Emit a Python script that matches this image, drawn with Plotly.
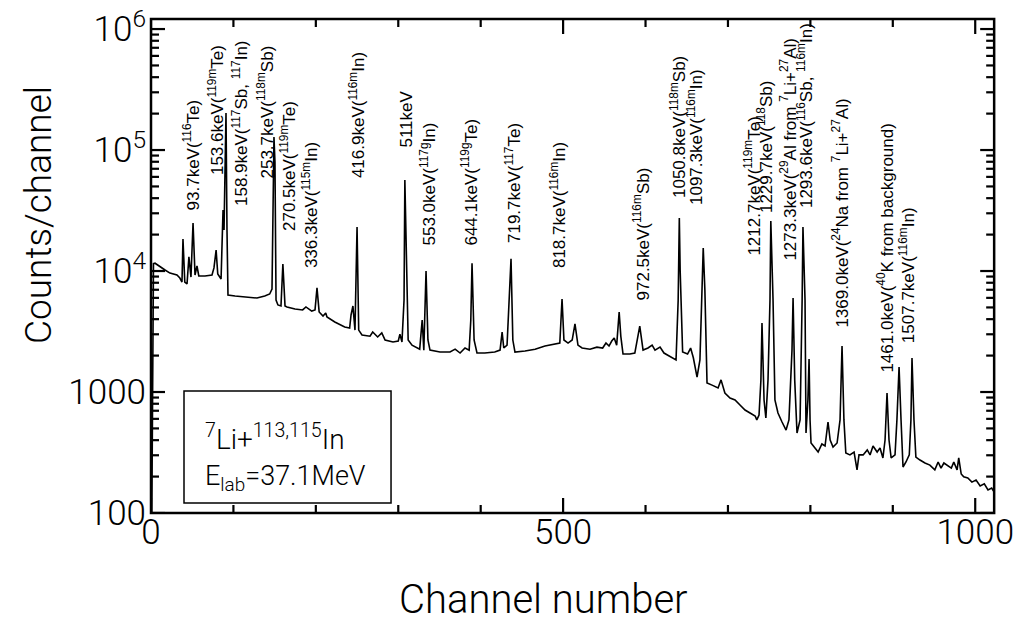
import plotly.graph_objects as go

channel = [1, 3, 4.9, 10.9, 17, 23, 31.5, 35, 37.6, 38.8, 41, 43.7, 46, 48.5, 51, 53.4, 55.8, 58, 65.5, 74,
           76.4, 79, 81, 85, 87.4, 88.6, 89.8, 91, 92.2, 93.4, 102, 114, 128.6, 138, 144, 146.8, 148, 149.2,
           150.4, 151.7, 154, 157.7, 160, 162.6, 165, 174.7, 184, 188, 195, 199, 201.4, 204, 208.7, 212,
           213.5, 223, 235, 241, 242.7, 245, 247.5, 250, 252, 256, 265.7, 269, 275, 280, 284, 293.6, 300,
           302, 304.5, 307, 308, 309.5, 312, 316.7, 322.7, 326, 329, 331, 333.7, 336, 338.5, 350.6, 362.8,
           369, 375, 381, 386, 388, 389.5, 392, 395.5, 405, 417, 423.5, 426, 428, 432, 436.8, 439, 441.6,
           453.8, 466, 478, 490, 496, 498.7, 501, 506, 511, 514.4, 518, 523, 532.6, 541, 548, 552, 555.7,
           559, 562, 565, 568, 570, 572.7, 581, 587, 593, 597, 603, 608, 611.5, 617.6, 622.4, 629.7, 637,
           639.6, 641, 642, 645, 651, 654.7, 658, 662.5, 666, 668.6, 670, 672, 674.6, 680.7, 688, 691.6,
           696.3, 702.5, 708.6, 714.6, 720.7, 726.8, 733, 735, 737.7, 740, 741.3, 743.8, 746, 748.6, 751,
           752, 754.7, 757, 760.7, 765.6, 770.5, 774, 777.7, 779, 781, 783.8, 787.5, 790, 791, 793.5, 794.7,
           797, 798.4, 799.6, 800.8, 805.6, 809.4, 814, 817.8, 821.4, 824, 827.5, 832.4, 836, 838.4, 840.7,
           843, 848, 853, 856.6, 859, 864, 869, 872.4, 876, 881, 884.5, 888, 890.6, 893, 895.4, 898, 902.7,
           905, 907.6, 910, 912.4, 916, 920, 922, 923.3, 925.7, 928, 933, 939, 945, 951, 955, 958.5, 962,
           967, 971, 974, 978, 980, 983, 986, 991, 996, 1001, 1006, 1011, 1015.5, 1020, 1023]
counts = [100, 11500, 11600, 10800, 10200, 9620, 9270, 8750, 8110, 18400, 8100, 7820, 13100, 8910, 24900, 9270,
          11000, 9100, 9100, 9270, 10600, 14900, 9440, 8590, 31900, 21800, 100000, 202000, 21800, 6340, 6220,
          6090, 5980, 6220, 6460, 7090, 38600, 128000, 79600, 5750, 5240, 5140, 11400, 5140, 5050, 4850, 4770,
          5050, 4670, 4770, 7250, 4590, 4250, 4500, 4170, 3790, 3450, 3380, 4330, 5140, 3250, 23100, 3250,
          2960, 2890, 3130, 2850, 3080, 2690, 2590, 2640, 3010, 2590, 5750, 56500, 14900, 2690, 2440, 2310,
          2260, 3940, 2220, 10000, 2690, 2220, 2140, 2140, 2260, 2100, 2310, 2220, 3940, 11600, 2690, 2100,
          2100, 2140, 2220, 3130, 2310, 2440, 12600, 2690, 2140, 2180, 2260, 2400, 2490, 2540, 5870, 2690,
          2540, 2690, 3650, 2440, 2310, 2260, 2350, 2310, 2540, 2400, 2640, 2790, 2440, 4590, 2900, 2060,
          2060, 2100, 3510, 2220, 2310, 2440, 2220, 2350, 2100, 1950, 1840, 5750, 27400, 10200, 2140, 2060,
          2310, 1920, 1330, 1840, 8430, 15500, 6960, 1190, 1140, 1080, 1260, 980, 892, 859, 781, 710, 670,
          633, 588, 646, 1260, 3720, 859, 610, 1260, 5750, 25900, 5750, 859, 670, 565, 485, 588, 2220, 5990,
          1260, 458, 588, 5750, 23100, 5750, 458, 859, 1870, 588, 379, 344, 319, 372, 358, 565, 401, 351,
          379, 588, 2400, 588, 313, 302, 319, 227, 302, 302, 332, 302, 358, 319, 344, 285, 401, 980, 401,
          285, 302, 588, 1610, 588, 240, 264, 302, 588, 1910, 588, 290, 274, 259, 249, 227, 264, 235, 259,
          245, 235, 264, 227, 285, 210, 199, 195, 180, 187, 167, 174, 155, 161, 149]

peak_labels = [
    "93.7keV(<sup>116</sup>Te)",
    "153.6keV(<sup>119m</sup>Te)",
    "158.9keV(<sup>117</sup>Sb, <sup>117</sup>In)",
    "253.7keV(<sup>118m</sup>Sb)",
    "270.5keV(<sup>119m</sup>Te)",
    "336.3keV(<sup>115m</sup>In)",
    "416.9keV(<sup>116m</sup>In)",
    "511keV",
    "553.0keV(<sup>117g</sup>In)",
    "644.1keV(<sup>119g</sup>Te)",
    "719.7keV(<sup>117</sup>Te)",
    "818.7keV(<sup>116m</sup>In)",
    "972.5keV(<sup>116m</sup>Sb)",
    "1050.8keV(<sup>118m</sup>Sb)",
    "1097.3keV(<sup>116m</sup>In)",
    "1212.7keV(<sup>119m</sup>Te)",
    "1229.7keV(<sup>118</sup>Sb)",
    "1273.3keV(<sup>29</sup>Al from <sup>7</sup>Li+<sup>27</sup>Al)",
    "1293.6keV(<sup>116</sup>Sb, <sup>116m</sup>In)",
    "1369.0keV(<sup>24</sup>Na from <sup>7</sup>Li+<sup>27</sup>Al)",
    "1461.0keV(<sup>40</sup>K from background)",
    "1507.7keV(<sup>116m</sup>In)",
]
label_pos_x = [49.7, 78.9, 108, 138.3, 166.2, 193, 250, 310.6, 336, 385.8, 439.2, 493.8, 595.7, 639.4, 660,
               729.2, 745, 772.9, 793.5, 836, 890.6, 917.3]
label_pos_y = [4.488, 4.777, 4.521, 4.752, 4.314, 4.008, 4.752, 5.0, 4.198, 4.198, 4.215, 4.008, 3.744,
               4.587, 4.529, 4.107, 4.463, 4.066, 4.5, 3.512, 3.14, 3.388]

y_tickvals = [100, 1000, 1e4, 1e5, 1e6]
y_ticktext = ["100", "1000", "10<sup>4</sup>", "10<sup>5</sup>", "10<sup>6</sup>"]
x_tickvals = [0, 500, 1000]
x_ticktext = ["0", "500", "1000"]

y_minor = [m * 10 ** e for e in range(2, 6) for m in range(2, 10)]
x_minor = [v for v in range(100, 1100, 100) if v % 500 != 0]

X_RANGE = [0, 1024]
Y_RANGE = [2, 6.083]

W, H = 1013, 637
ML, MR, MT, MB = 151, 18, 19, 124
PW, PH = W - ML - MR, H - MT - MB
PX_PER_CH = PW / (X_RANGE[1] - X_RANGE[0])
PX_PER_DEC = PH / (Y_RANGE[1] - Y_RANGE[0])

TICKFONT = dict(family="Roboto", size=35, color="black", weight=300)
LABELFONT = dict(family="Liberation Sans", size=17, color="black")

fig = go.Figure()
fig.add_trace(go.Scatter(x=channel, y=counts, mode="lines",
                         line=dict(color="black", width=1.6), showlegend=False, hoverinfo="skip"))

# inside tick marks on all four sides, built from the tick value lists
tick_x, tick_y = [], []
y_lo, y_hi = 10 ** Y_RANGE[0], 10 ** Y_RANGE[1]
for vals, length in ((x_tickvals, 15), (x_minor, 8)):
    f = 10 ** (length / PX_PER_DEC)
    for v in vals:
        tick_x += [v, v, None, v, v, None]
        tick_y += [y_lo, y_lo * f, None, y_hi, y_hi / f, None]
for vals, length in ((y_tickvals, 14), (y_minor, 8)):
    d = length / PX_PER_CH
    for v in vals:
        tick_x += [X_RANGE[0], X_RANGE[0] + d, None, X_RANGE[1] - 1, X_RANGE[1] - 1 - d, None]
        tick_y += [v, v, None, v, v, None]
fig.add_trace(go.Scatter(x=tick_x, y=tick_y, mode="lines", connectgaps=False,
                         line=dict(color="black", width=2.2), showlegend=False, hoverinfo="skip"))

for txt, lx, ly in zip(peak_labels, label_pos_x, label_pos_y):
    fig.add_annotation(x=lx, y=ly, xref="x", yref="y", text=txt, textangle=-90, showarrow=False,
                       xanchor="center", yanchor="bottom", font=LABELFONT)

# frame
fig.add_shape(type="rect", xref="paper", yref="paper", x0=0, x1=0.999, y0=0, y1=1,
              line=dict(color="black", width=2.5))

# info box
fig.add_shape(type="rect", xref="paper", yref="paper", x0=0.0391, x1=0.2844, y0=0.0202, y1=0.247,
              line=dict(color="black", width=1.5), fillcolor="white", layer="above")
fig.add_annotation(x=0.062, y=0.152, xref="paper", yref="paper", xanchor="left", yanchor="middle",
                   text="<sup>7</sup>Li+<sup>113,115</sup>In", showarrow=False,
                   font=dict(family="Roboto", size=28, color="black", weight=300))
fig.add_annotation(x=0.062, y=0.071, xref="paper", yref="paper", xanchor="left", yanchor="middle",
                   text="E<sub>lab</sub>=37.1MeV", showarrow=False,
                   font=dict(family="Roboto", size=27, color="black", weight=300))

fig.add_annotation(x=0.4645, y=-0.176, xref="paper", yref="paper", text="Channel number", showarrow=False,
                   xanchor="center", yanchor="middle",
                   font=dict(family="Roboto", size=40, color="black", weight=300))
fig.add_annotation(x=-0.134, y=0.603, xref="paper", yref="paper", text="Counts/channel", showarrow=False,
                   textangle=-90, xanchor="center", yanchor="middle",
                   font=dict(family="Roboto", size=37, color="black", weight=300))

fig.update_layout(
    xaxis=dict(range=X_RANGE, tickmode="array", tickvals=x_tickvals, ticktext=x_ticktext, ticks="",
               tickfont=TICKFONT, ticklabeloverflow="allow", ticklabelstandoff=-5, showline=False,
               showgrid=False, zeroline=False, automargin=False),
    yaxis=dict(type="log", range=Y_RANGE, tickmode="array", tickvals=y_tickvals, ticktext=y_ticktext,
               ticks="", tickfont=TICKFONT, ticklabeloverflow="allow", ticklabelstandoff=4, showline=False,
               showgrid=False, zeroline=False, automargin=False),
    width=W, height=H, margin=dict(l=ML, r=MR, t=MT, b=MB),
    plot_bgcolor="white", paper_bgcolor="white", showlegend=False,
)

fig.write_html("out.html", config={"displayModeBar": False},
               post_script="document.body.style.margin='0px';document.body.style.overflow='hidden';")
